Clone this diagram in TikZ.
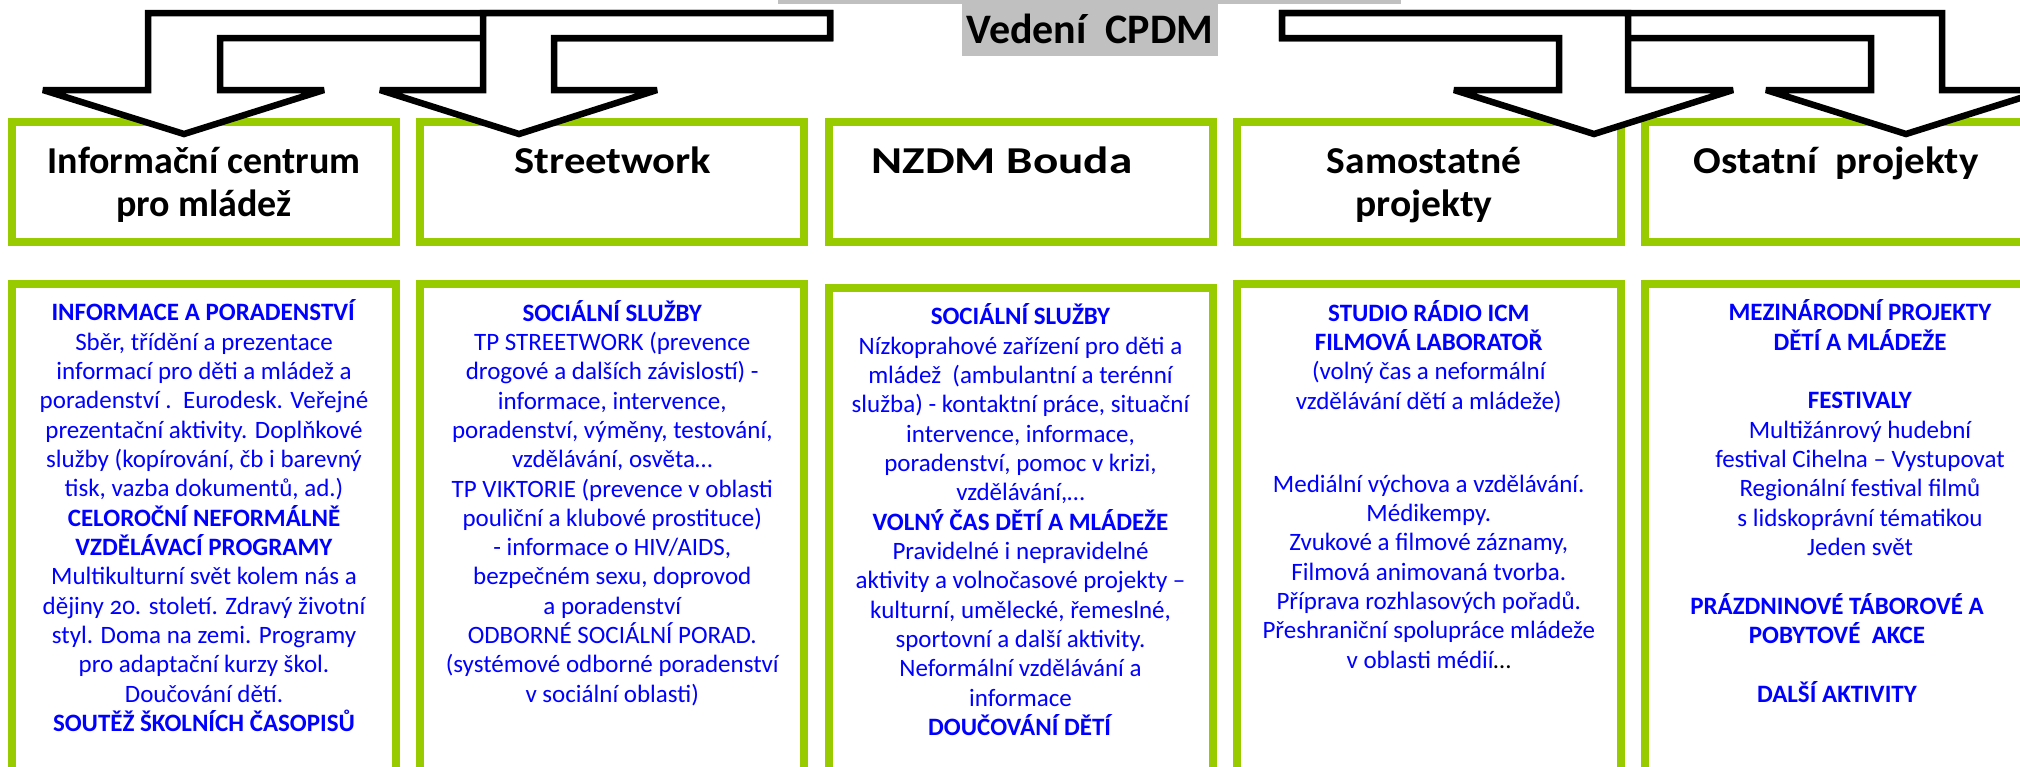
\documentclass[tikz,border=0pt]{standalone}
\usepackage{fontspec}
\setmainfont{Carlito}
\definecolor{lgreen}{HTML}{99CC00}
\definecolor{txtblue}{HTML}{0000FF}
\definecolor{leadgray}{HTML}{C0C0C0}
\tikzset{
  headbox/.style={draw=lgreen, line width=8pt, fill=white, minimum width=384pt, minimum height=120pt, inner sep=0pt},
  bodybox/.style={draw=lgreen, line width=8pt, fill=white, minimum width=384pt, minimum height=500pt, inner sep=0pt},
  headtxt/.style={anchor=base, align=center, inner sep=0pt, font=\fontsize{38}{43}\selectfont\bfseries},
  bodytxt/.style={anchor=base, align=center, inner sep=0pt, text=txtblue, font=\fontsize{25}{29.33}\selectfont},
  barrow/.style={draw=black, fill=white, line width=6.5pt, line join=miter, miter limit=1.5}
}
\begin{document}
\begin{tikzpicture}[x=1pt,y=-1pt]
\useasboundingbox (0,0) rectangle (2020,766);
\clip (0,0) rectangle (2020,766);
\fill[white] (0,0) rectangle (2020,766);
% top strip and lead box
\fill[leadgray] (778,0) rectangle (1401,4);
\node[fill=leadgray, inner sep=0pt, minimum width=256pt, minimum height=56pt] (lead) at (1090,28) {};
\node[anchor=base, inner sep=0pt, font=\fontsize{42}{48}\selectfont\bfseries] (leadtxt) at (1090,43) {Vedení~~CPDM};
% header boxes
\node[headbox] (h1) at (204,182) {};
\node[headbox] (h2) at (612.25,182) {};
\node[headbox] (h3) at (1020.5,182) {};
\node[headbox] (h4) at (1428.75,182) {};
\node[headbox] (h5) at (1837,182) {};
% body boxes
\node[bodybox] (b1) at (204,534) {};
\node[bodybox] (b2) at (612.25,534) {};
\node[bodybox] (b3) at (1020.5,538) {};
\node[bodybox] (b4) at (1428.75,534) {};
\node[bodybox] (b5) at (1837,534) {};
% header titles (anchor = baseline of last line)
\node[headtxt] (t1) at (204,216) {Informační centrum\\pro mládež};
\node[headtxt] (t2) at (613,173) {\scalebox{1.12}[1]{Streetwork}};
\node[headtxt] (t3) at (1002,173) {\scalebox{1.24}[1]{NZDM Bouda}};
\node[headtxt] (t4) at (1424,216) {\scalebox{1.04}[1]{Samostatné}\\\scalebox{1.04}[1]{projekty}};
\node[headtxt] (t5) at (1836,173) {\scalebox{1.08}[1]{Ostatní~~projekty}};
% arrows
\draw[barrow] (830,13) -- (148,13) -- (148,90) -- (43,90) -- (184,134) -- (324,90) -- (220,90) -- (220,38) -- (830,38) -- cycle;
\draw[barrow] (483,13) -- (830,13) -- (830,38) -- (554,38) -- (554,90) -- (657,90) -- (519,134) -- (380,90) -- (483,90) -- cycle;
\draw[barrow] (1942,13) -- (1282,13) -- (1282,38) -- (1871,38) -- (1871,90) -- (1766,90) -- (1906,134) -- (2046,90) -- (1942,90) -- cycle;
\draw[barrow] (1628,13) -- (1282,13) -- (1282,38) -- (1559,38) -- (1559,90) -- (1454,90) -- (1594,134) -- (1733,90) -- (1628,90) -- cycle;
% body texts (anchor = baseline of last line)
\node[bodytxt] (x1) at (204,731.6) {\textbf{INFORMACE A PORADENSTVÍ}\\
Sběr, třídění a prezentace\\
informací pro děti a mládež a\\
poradenství .~~Eurodesk. Veřejné\\
prezentační aktivity. Doplňkové\\
služby (kopírování, čb i barevný\\
tisk, vazba dokumentů, ad.)\\
\textbf{CELOROČNÍ NEFORMÁLNĚ}\\
\textbf{VZDĚLÁVACÍ PROGRAMY}\\
Multikulturní svět kolem nás a\\
dějiny {\addfontfeatures{Numbers=OldStyle}20}. století. Zdravý životní\\
styl. Doma na zemi. Programy\\
pro adaptační kurzy škol.\\
Doučování dětí.\\
\textbf{SOUTĚŽ ŠKOLNÍCH ČASOPISŮ}};
\node[bodytxt] (x2) at (612.25,702.3) {\textbf{SOCIÁLNÍ SLUŽBY}\\
TP STREETWORK (prevence\\
drogové a dalších závislostí) -\\
informace, intervence,\\
poradenství, výměny, testování,\\
vzdělávání, osvěta…\\
TP VIKTORIE (prevence v oblasti\\
pouliční a klubové prostituce)\\
- informace o HIV/AIDS,\\
bezpečném sexu, doprovod\\
a poradenství\\
ODBORNÉ SOCIÁLNÍ PORAD.\\
(systémové odborné poradenství\\
v sociální oblasti)};
\node[bodytxt] (x3) at (1020.5,735.6) {\textbf{SOCIÁLNÍ SLUŽBY}\\
Nízkoprahové zařízení pro děti a\\
mládež~~(ambulantní a terénní\\
služba) - kontaktní práce, situační\\
intervence, informace,\\
poradenství, pomoc v krizi,\\
vzdělávání,…\\
\textbf{VOLNÝ ČAS DĚTÍ A MLÁDEŽE}\\
Pravidelné i nepravidelné\\
aktivity a volnočasové projekty –\\
kulturní, umělecké, řemeslné,\\
sportovní a další aktivity.\\
Neformální vzdělávání a\\
informace\\
\textbf{DOUČOVÁNÍ DĚTÍ}};
\node[bodytxt] (x4a) at (1428.75,409) {\textbf{STUDIO RÁDIO ICM}\\
\textbf{FILMOVÁ LABORATOŘ}\\
(volný čas a neformální\\
vzdělávání dětí a mládeže)};
\node[bodytxt] (x4b) at (1428.75,668) {Mediální výchova a vzdělávání.\\
Médikempy.\\
Zvukové a filmové záznamy,\\
Filmová animovaná tvorba.\\
Příprava rozhlasových pořadů.\\
Přeshraniční spolupráce mládeže\\
v oblasti médií\textcolor{black}{…}};
\node[bodytxt] (x5a) at (1860,555.6) {\textbf{MEZINÁRODNÍ PROJEKTY}\\
\textbf{DĚTÍ A MLÁDEŽE}\\[29.33pt]
\textbf{FESTIVALY}\\
Multižánrový hudební\\
festival Cihelna – Vystupovat\\
Regionální festival filmů\\
s lidskoprávní tématikou\\
Jeden svět};
\node[bodytxt] (x5b) at (1837,702) {\textbf{PRÁZDNINOVÉ TÁBOROVÉ A}\\
\textbf{POBYTOVÉ~~AKCE}\\[29.33pt]
\textbf{DALŠÍ AKTIVITY}};
\end{tikzpicture}
\end{document}
